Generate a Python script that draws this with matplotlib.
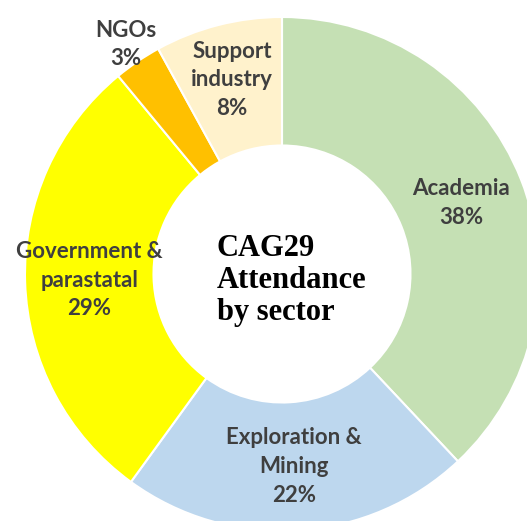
import numpy as np
import matplotlib
matplotlib.use("Agg")
import matplotlib.pyplot as plt

# Data
sectors = ["Academia", "Exploration &\nMining", "Government &\nparastatal", "NGOs", "Support\nindustry"]
shares = [38, 22, 29, 3, 8]
colors = ["#C5E0B4", "#BDD7EE", "#FFFF00", "#FFC000", "#FFF2CC"]
center_title = "CAG29\nAttendance\nby sector"

W, H = 527, 521
fig = plt.figure(figsize=(W / 100, H / 100), dpi=100)
ax = fig.add_axes([0, 0, 1, 1])

wedges, _ = ax.pie(shares, colors=colors, startangle=90, counterclock=False,
                   radius=1.0, wedgeprops=dict(width=0.5, edgecolor="white", linewidth=1.5))

# Labels at wedge mid-angles
label_r = [0.75, 0.75, 0.75, 1.08, 0.78]
total = sum(shares)
start = 90.0
for name, val, r in zip(sectors, shares, label_r):
    sweep = 360.0 * val / total
    mid = np.deg2rad(start - sweep / 2)
    start -= sweep
    ax.text(r * np.cos(mid), r * np.sin(mid), f"{name}\n{val}%",
            ha="center", va="center", fontsize=16, fontweight="bold",
            color="#3f3f3f", family="Lato", linespacing=1.45)

ax.text(-0.253, -0.025, center_title, ha="left", va="center", fontsize=22,
        fontweight="bold", family="Liberation Serif", color="black", linespacing=1.15)

# Position: center at (282, 274) px from top-left, radius 257 px
cx, cy, R = 282, 274, 257
ax.set_xlim(-cx / R, (W - cx) / R)
ax.set_ylim(-(H - cy) / R, cy / R)
ax.set_aspect("auto")
ax.axis("off")

fig.savefig("out.png", dpi=100, facecolor="white")
